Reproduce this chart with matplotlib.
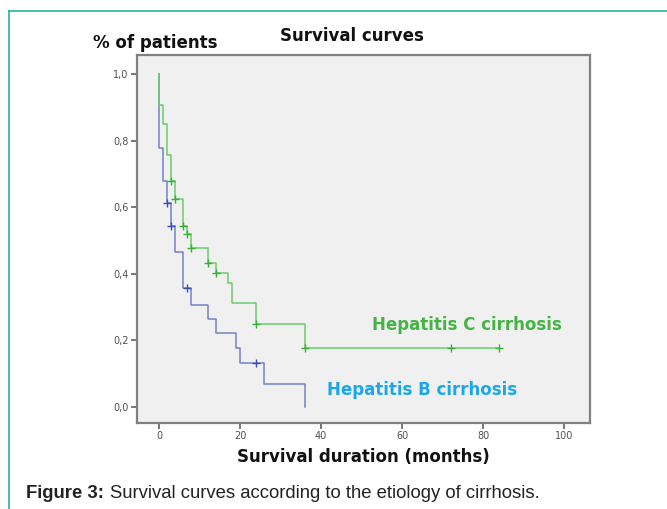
import numpy as np
import matplotlib.pyplot as plt
from matplotlib.lines import Line2D

# survival steps (months, proportion surviving)
hcv_t = [0, 0, 1, 2, 3, 4, 6, 7, 8, 12, 14, 17, 18, 24, 36, 84]
hcv_s = [1.0, 0.907, 0.85, 0.757, 0.68, 0.624, 0.545, 0.52, 0.478, 0.431, 0.403, 0.373, 0.311, 0.248, 0.178, 0.178]
hcv_cens_t = [3, 4, 6, 7, 8, 12, 14, 24, 36, 72, 84]
hcv_cens_s = [0.68, 0.624, 0.545, 0.52, 0.478, 0.431, 0.403, 0.248, 0.178, 0.178, 0.178]

hbv_t = [0, 0, 1, 2, 3, 4, 6, 8, 12, 14, 19, 20, 26, 36]
hbv_s = [1.0, 0.777, 0.68, 0.614, 0.544, 0.466, 0.356, 0.306, 0.263, 0.221, 0.176, 0.133, 0.068, 0.0]
hbv_cens_t = [2, 3, 7, 24]
hbv_cens_s = [0.614, 0.544, 0.356, 0.133]

x_ticks = [0, 20, 40, 60, 80, 100]
y_ticks = [0.0, 0.2, 0.4, 0.6, 0.8, 1.0]
y_labels = ['0,0', '0,2', '0,4', '0,6', '0,8', '1,0']

W, H = 667, 509
fig = plt.figure(figsize=(W / 100, H / 100), dpi=100)
ax = fig.add_axes([137 / W, 1 - 423 / H, (590 - 137) / W, (423 - 55) / H])
ax.set_facecolor('#f0f0f0')

ax.step(hbv_t, hbv_s, where='post', color='#7383c8', lw=1.1, zorder=3)
ax.step(hcv_t, hcv_s, where='post', color='#6acd6a', lw=1.1, zorder=4)
ax.plot(hbv_cens_t, hbv_cens_s, ls='none', marker='+', ms=6, mew=1.0, color='#3a4fb0', zorder=5)
ax.plot(hcv_cens_t, hcv_cens_s, ls='none', marker='+', ms=6, mew=1.0, color='#38b038', zorder=5)

ax.set_xlim(-5.43, 106.4)
ax.set_ylim(-0.048, 1.057)
ax.set_xticks(x_ticks)
ax.set_yticks(y_ticks)
ax.set_yticklabels(y_labels)
ax.tick_params(direction='out', length=4, width=1.2, color='#606060', labelsize=7, labelcolor='#505050', pad=2)
for sp in ax.spines.values():
	sp.set_color('#808080')
	sp.set_linewidth(1.6)

bold = dict(family='DejaVu Sans', fontweight='bold', fontsize=12)
fig.text(155 / W, 1 - 43 / H, '% of patients', ha='center', va='center', color='#111111', **bold)
fig.text(352 / W, 1 - 36 / H, 'Survival curves', ha='center', va='center', color='#111111', **bold)
fig.text(363 / W, 1 - 457 / H, 'Survival duration (months)', ha='center', va='center', color='#111111', **bold)
fig.text(372 / W, 1 - 325 / H, 'Hepatitis C cirrhosis', ha='left', va='center', color='#45b445', **bold)
fig.text(327 / W, 1 - 390 / H, 'Hepatitis B cirrhosis', ha='left', va='center', color='#1ea6ea', **bold)

fig.text(26 / W, 1 - 494 / H, 'Figure 3:', ha='left', va='center', fontsize=13.3, fontweight='bold',
	family='Liberation Sans', color='#222222')
fig.text(110 / W, 1 - 494 / H, 'Survival curves according to the etiology of cirrhosis.', ha='left', va='center',
	fontsize=13.3, family='Liberation Sans', color='#222222')

# teal frame of the figure box
fig.add_artist(Line2D([9 / W, 9 / W], [0, 1 - 11 / H], color='#2ab39c', lw=1.2))
fig.add_artist(Line2D([9 / W, 1], [1 - 11 / H, 1 - 11 / H], color='#2ab39c', lw=1.2))

fig.savefig('out.png', dpi=100)
